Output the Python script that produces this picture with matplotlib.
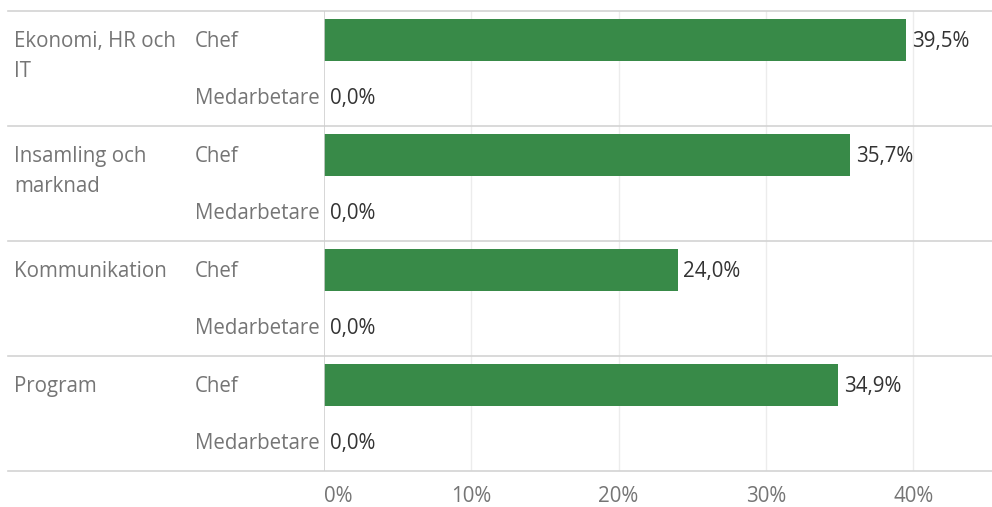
import matplotlib
matplotlib.use("Agg")
import matplotlib.pyplot as plt
from matplotlib.transforms import blended_transform_factory

categories = ["Ekonomi, HR och\nIT", "Insamling och\nmarknad", "Kommunikation", "Program"]
roles = ["Chef", "Medarbetare"]
values = [[39.5, 0.0], [35.7, 0.0], [24.0, 0.0], [34.9, 0.0]]
xticks = [0, 10, 20, 30, 40]
xticklabels = ["0%", "10%", "20%", "30%", "40%"]

W, H = 992, 507
fig = plt.figure(figsize=(W / 100, H / 100), dpi=100)
plt.rcParams['font.family'] = ['Open Sans', 'DejaVu Sans']

def fx(px):
    return px / W

def fy(py):
    return 1 - py / H

x0, x1 = 324, 992
ytop, ybot = 11, 471
ax = fig.add_axes([fx(x0), fy(ybot), fx(x1) - fx(x0), (ybot - ytop) / H])
nrows = len(categories) * len(roles)
ax.set_ylim(nrows, 0)
ax.set_xlim(0, 45.35)

bar_color = "#388a48"
lab_gray = "#757575"
FS = 14.8
dy = 0.03

for i, cat in enumerate(categories):
    for j, role in enumerate(roles):
        r = i * len(roles) + j + 0.5
        v = values[i][j]
        ax.barh(r, v, height=0.73, color=bar_color, zorder=3)
        ax.text(v + 0.4, r + dy, f"{v:.1f}%".replace(".", ","), va="center", ha="left",
                fontsize=FS, color="#333333", zorder=4)

for s in ax.spines.values():
    s.set_visible(False)
ax.set_yticks([])
ax.set_xticks(xticks)
ax.tick_params(axis="x", length=0, pad=11, labelsize=FS, labelcolor=lab_gray)
ax.set_xticklabels(xticklabels)
lbls = ax.get_xticklabels()
lbls[0].set_ha("left")
for x in xticks[1:]:
    ax.axvline(x, color="#ececec", lw=1, zorder=1)
ax.axvline(0, color="#cfcfcf", lw=1.2, zorder=5)

trans = blended_transform_factory(fig.transFigure, ax.transData)
for k in range(len(categories) + 1):
    yy = k * len(roles)
    ax.plot([fx(8), 1], [yy, yy], transform=trans, color="#d3d3d3", lw=1.2,
            clip_on=False, zorder=2)

for i, cat in enumerate(categories):
    base = i * len(roles) + 0.5 + dy
    for li, line in enumerate(cat.split("\n")):
        ax.text(fx(14), base + li * 0.52, line, transform=trans, va="center", ha="left",
                fontsize=FS, color=lab_gray)
    for j, role in enumerate(roles):
        ax.text(fx(195), base + j, role, transform=trans, va="center", ha="left",
                fontsize=FS, color=lab_gray)

fig.savefig("out.png", dpi=100)
